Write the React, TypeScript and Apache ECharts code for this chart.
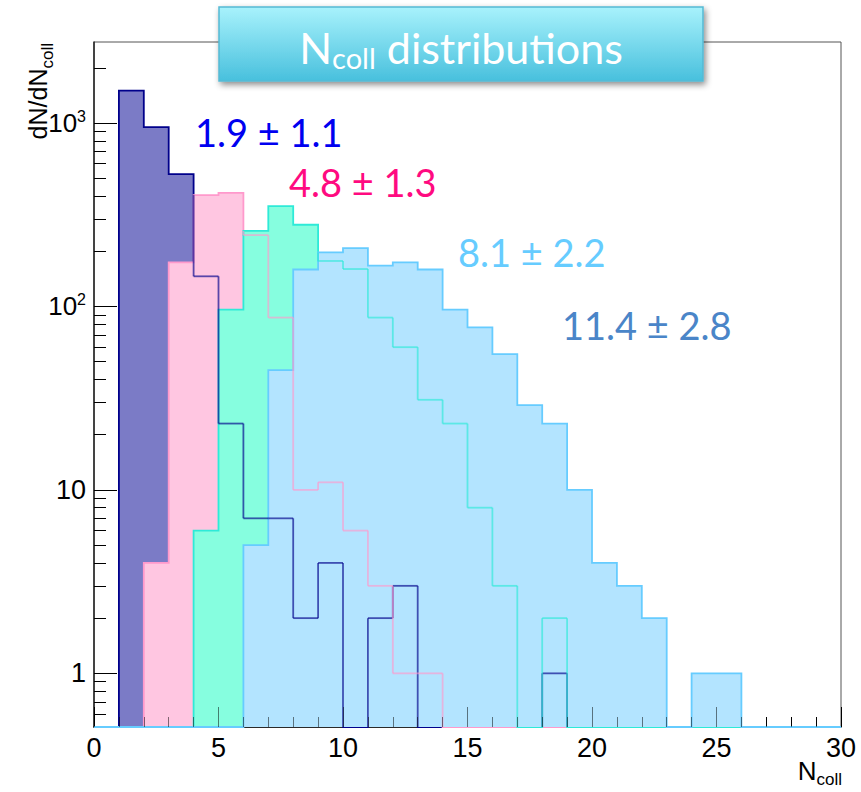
import React, { useEffect, useRef } from "react";
import * as echarts from "echarts";

// Lower edges of the unit-width N_coll bins
const binStarts = [
  0, 1, 2, 3, 4, 5, 6, 7, 8, 9, 10, 11, 12, 13, 14, 15, 16, 17, 18, 19, 20, 21, 22, 23, 24,
  25, 26, 27, 28, 29,
];
const BIN_WIDTH = 1;

// Entries per bin for the four event classes
const countsClassA = [
  0, 1500, 950, 526, 146, 23, 7, 7, 2, 4, 0, 2, 3, 0, 0, 0, 0, 0, 1, 0, 0, 0, 0, 0, 0, 0, 0, 0, 0, 0,
];
const countsClassB = [
  0, 0, 4, 174, 405, 416, 245, 87, 10, 11, 6, 3, 1, 1, 0, 0, 0, 0, 0, 0, 0, 0, 0, 0, 0, 0, 0, 0, 0, 0,
];
const countsClassC = [
  0, 0, 0, 0, 6, 96, 258, 352, 279, 177, 160, 87, 60, 31, 23, 8, 3, 0, 2, 0, 0, 0, 0, 0, 0, 0, 0, 0, 0, 0,
];
const countsClassD = [
  0, 0, 0, 0, 0, 0, 5, 45, 159, 197, 208, 167, 174, 159, 96, 77, 55, 29, 23, 10, 4, 3, 2, 0, 1, 1, 0, 0, 0, 0,
];

// Mean ± RMS of each class
const meanLabels = ["1.9 ± 1.1", "4.8 ± 1.3", "8.1 ± 2.2", "11.4 ± 2.8"];

// Log-axis tick values
const yMajorTicks = [1, 10, 100, 1000];
const yMinorTicks = [
  0.6, 0.7, 0.8, 0.9, 2, 3, 4, 5, 6, 7, 8, 9, 20, 30, 40, 50, 60, 70, 80, 90, 200, 300, 400, 500,
  600, 700, 800, 900, 2000,
];

const Y_MIN = 0.51;
const Y_MAX = 2765;
const X_MIN = 0;
const X_MAX = 30;
const LINE_W = 1.8;
const GHOST_OPACITY = 0.65;
const AXIS_FONT = "'Liberation Sans', Arial, sans-serif";
const LABEL_FONT = "Lato, 'Open Sans', sans-serif";

const histStyles = [
  { line: "#00008b", fill: "#7b7bc6" },
  { line: "#ff99cc", fill: "#ffc6e1" },
  { line: "#2eead8", fill: "#86fedf" },
  { line: "#66ccff", fill: "#b3e4ff" },
];
const histCounts = [countsClassA, countsClassB, countsClassC, countsClassD];

const labelStyles = [
  { color: "#0000f0", x: 195, y: 132 },
  { color: "#ff0a80", x: 289, y: 182 },
  { color: "#66ccff", x: 458, y: 252 },
  { color: "#4a85c8", x: 562, y: 325 },
];

function histogramSeries(k: number) {
  const counts = histCounts[k];
  const later = histCounts.slice(k + 1);
  const { line, fill } = histStyles[k];
  return {
    type: "custom",
    name: meanLabels[k],
    coordinateSystem: "cartesian2d",
    xAxisIndex: 0,
    yAxisIndex: 0,
    silent: true,
    z: 2,
    data: binStarts.map((x, i) => [x, x + BIN_WIDTH, counts[i]]),
    encode: { x: [0, 1], y: 2 },
    renderItem: (params: any, api: any) => {
      if (params.dataIndex !== 0) return null;
      const n = params.dataInsideLength;
      const clampLow = (v: number) => (v > 0 ? v : Y_MIN);
      const x0: number[] = [];
      const x1: number[] = [];
      const vs: number[] = [];
      for (let i = 0; i < n; i++) {
        x0.push(api.value(0, i));
        x1.push(api.value(1, i));
        vs.push(api.value(2, i));
      }
      const pts: number[][] = [api.coord([x0[0], Y_MIN])];
      for (let i = 0; i < n; i++) {
        const v = clampLow(vs[i]);
        pts.push(api.coord([x0[i], v]), api.coord([x1[i], v]));
      }
      pts.push(api.coord([x1[n - 1], Y_MIN]));

      // Height of the later-drawn (covering) histograms in a bin
      const laterTop = (b: number) =>
        b < 0 || b >= n ? 0 : later.reduce((m, arr) => Math.max(m, arr[b] || 0), 0);

      // Outline parts hidden below later fills show through the dither, weakened
      const ghosts: any[] = [];
      const seg = (a: number[], b: number[]) => ({
        type: "line",
        shape: { x1: a[0], y1: a[1], x2: b[0], y2: b[1] },
        style: { stroke: line, lineWidth: LINE_W, opacity: GHOST_OPACITY },
        z2: 40 + k,
      });
      for (let b = 0; b < n; b++) {
        if (vs[b] > 0 && vs[b] < laterTop(b)) {
          ghosts.push(seg(api.coord([x0[b], vs[b]]), api.coord([x1[b], vs[b]])));
        }
      }
      for (let e = 0; e <= n; e++) {
        const left = e > 0 ? vs[e - 1] : 0;
        const right = e < n ? vs[e] : 0;
        if (left === right) continue;
        const bottom = clampLow(Math.min(left, right));
        const top = clampLow(Math.max(left, right));
        const cover = Math.max(laterTop(e - 1), laterTop(e));
        if (cover > bottom) {
          const x = e < n ? x0[e] : x1[n - 1];
          ghosts.push(seg(api.coord([x, bottom]), api.coord([x, Math.min(top, cover)])));
        }
      }

      return {
        type: "group",
        children: [
          { type: "polygon", shape: { points: pts }, style: { fill, stroke: null }, z2: k * 2 },
          {
            type: "polyline",
            shape: { points: pts },
            style: { fill: null, stroke: line, lineWidth: LINE_W },
            z2: k * 2 + 1,
          },
          ...ghosts,
        ],
      };
    },
  };
}

function buildOption() {
  const xAxisBase = {
    type: "value",
    min: X_MIN,
    max: X_MAX,
    interval: 5,
    position: "bottom",
    splitLine: { show: false },
    minorSplitLine: { show: false },
  };
  const yAxisBase = {
    type: "log",
    logBase: 10,
    min: Y_MIN,
    max: Y_MAX,
    position: "left",
    splitLine: { show: false },
    minorSplitLine: { show: false },
  };

  return {
    animation: false,
    backgroundColor: "#ffffff",
    grid: {
      left: 94,
      right: 20,
      top: 42,
      bottom: 65,
      show: true,
      borderColor: "#555555",
      borderWidth: 1,
      backgroundColor: "transparent",
      containLabel: false,
      outerBoundsMode: "none",
    },
    xAxis: [
      {
        ...xAxisBase,
        z: 0,
        axisLine: { show: true, lineStyle: { color: "#000", width: 1.5 } },
        axisTick: { show: true, inside: true, length: 20, lineStyle: { color: "#000", width: 1 } },
        minorTick: { show: true, splitNumber: 5, length: 10, lineStyle: { color: "#000", width: 1 } },
        axisLabel: {
          show: true,
          margin: 7,
          fontSize: 27,
          fontFamily: AXIS_FONT,
          color: "#000",
        },
      },
      {
        ...xAxisBase,
        z: 5,
        axisLine: { show: false },
        axisLabel: { show: false },
        axisTick: {
          show: true,
          inside: true,
          length: 20,
          lineStyle: { color: "#000", width: 1, opacity: 0.5 },
        },
        minorTick: {
          show: true,
          splitNumber: 5,
          length: 10,
          lineStyle: { color: "#000", width: 1, opacity: 0.5 },
        },
      },
    ],
    yAxis: [
      {
        ...yAxisBase,
        axisLine: { show: true, lineStyle: { color: "#222", width: 1.5 } },
        axisTick: {
          show: true,
          inside: true,
          length: 23,
          customValues: yMajorTicks,
          lineStyle: { color: "#000", width: 1 },
        },
        axisLabel: {
          show: true,
          customValues: yMajorTicks,
          margin: 8,
          fontSize: 27,
          fontFamily: AXIS_FONT,
          color: "#000",
          formatter: (v: number) => {
            const e = Math.round(Math.log10(v));
            return e >= 2 ? `{b|10}{sup|${e}}` : String(Math.round(v));
          },
          rich: {
            b: { fontSize: 26, fontFamily: AXIS_FONT, color: "#000", lineHeight: 30 },
            sup: {
              fontSize: 16,
              fontFamily: AXIS_FONT,
              color: "#000",
              lineHeight: 16,
              verticalAlign: "top",
            },
          },
        },
      },
      {
        ...yAxisBase,
        axisLine: { show: false },
        axisLabel: { show: false },
        axisTick: {
          show: true,
          inside: true,
          length: 12,
          customValues: yMinorTicks,
          lineStyle: { color: "#000", width: 1 },
        },
      },
    ],
    series: histCounts.map((_, k) => histogramSeries(k)),
    graphic: [
      // title box
      {
        type: "group",
        z: 100,
        children: [
          {
            type: "rect",
            shape: { x: 219, y: 7, width: 484, height: 74 },
            style: {
              fill: new echarts.graphic.LinearGradient(0, 0, 0, 1, [
                { offset: 0, color: "#a8f2fc" },
                { offset: 1, color: "#48c0dd" },
              ]),
              stroke: "#55b9d3",
              lineWidth: 1.5,
              shadowBlur: 6,
              shadowOffsetX: 2,
              shadowOffsetY: 3,
              shadowColor: "rgba(0,0,0,0.45)",
            },
          },
          {
            type: "text",
            x: 461,
            y: 47,
            style: {
              text: "{n|N}{s|coll}{n| distributions}",
              align: "center",
              verticalAlign: "middle",
              fill: "#ffffff",
              rich: {
                n: { fontSize: 43, fontFamily: LABEL_FONT, fill: "#ffffff", lineHeight: 50 },
                s: {
                  fontSize: 29,
                  fontFamily: LABEL_FONT,
                  fill: "#ffffff",
                  lineHeight: 13,
                  verticalAlign: "bottom",
                },
              },
            },
          },
        ],
      },
      // y-axis title
      {
        type: "text",
        x: 38,
        y: 43,
        rotation: Math.PI / 2,
        z: 50,
        style: {
          text: "{n|dN/dN}{s|coll}",
          align: "right",
          verticalAlign: "middle",
          fill: "#000",
          rich: {
            n: { fontSize: 25, fontFamily: AXIS_FONT, fill: "#000", lineHeight: 36 },
            s: {
              fontSize: 17,
              fontFamily: AXIS_FONT,
              fill: "#000",
              lineHeight: 8,
              verticalAlign: "bottom",
            },
          },
        },
      },
      // x-axis title
      {
        type: "text",
        x: 842,
        y: 771,
        z: 50,
        style: {
          text: "{n|N}{s|coll}",
          align: "right",
          verticalAlign: "middle",
          fill: "#000",
          rich: {
            n: { fontSize: 26, fontFamily: AXIS_FONT, fill: "#000", lineHeight: 34 },
            s: {
              fontSize: 17,
              fontFamily: AXIS_FONT,
              fill: "#000",
              lineHeight: 12,
              verticalAlign: "bottom",
            },
          },
        },
      },
      // mean ± RMS annotations
      ...meanLabels.map((txt, i) => ({
        type: "text",
        x: labelStyles[i].x,
        y: labelStyles[i].y,
        z: 60,
        style: {
          text: txt,
          align: "left",
          verticalAlign: "middle",
          fill: labelStyles[i].color,
          fontSize: 38,
          fontFamily: LABEL_FONT,
        },
      })),
    ],
  };
}

export default function App() {
  const ref = useRef<HTMLDivElement>(null);

  useEffect(() => {
    if (!ref.current) return;
    const chart = echarts.init(ref.current, undefined, {
      renderer: "svg",
      width: 861,
      height: 792,
    });
    chart.setOption(buildOption() as any);
    return () => chart.dispose();
  }, []);

  return (
    <div
      ref={ref}
      style={{
        position: "fixed",
        left: 0,
        top: 0,
        width: 861,
        height: 792,
        background: "#ffffff",
      }}
    />
  );
}
